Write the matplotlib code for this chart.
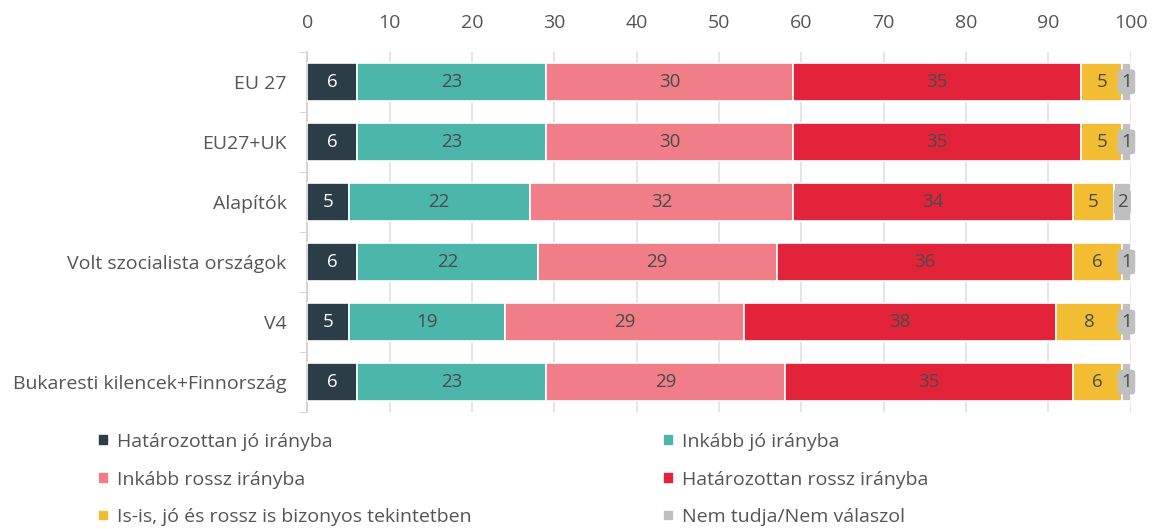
import matplotlib.pyplot as plt
import numpy as np

plt.rcParams['font.family'] = ['Open Sans', 'DejaVu Sans']

groups = ['EU 27', 'EU27+UK', 'Alapítók', 'Volt szocialista országok', 'V4',
          'Bukaresti kilencek+Finnország']
series = ['Határozottan jó irányba', 'Inkább jó irányba', 'Inkább rossz irányba',
          'Határozottan rossz irányba', 'Is-is, jó és rossz is bizonyos tekintetben',
          'Nem tudja/Nem válaszol']
values = [
    [6, 6, 5, 6, 5, 6],
    [23, 23, 22, 22, 19, 23],
    [30, 30, 32, 29, 29, 29],
    [35, 35, 34, 36, 38, 35],
    [5, 5, 5, 6, 8, 6],
    [1, 1, 2, 1, 1, 1],
]
colors = ['#2b3d46', '#4db6ab', '#f07d87', '#e3233a', '#f2bd33', '#bfbfbf']
text_colors = ['white', '#4a4a4a', '#4a4a4a', '#4a4a4a', '#4a4a4a', '#4a4a4a']

fig = plt.figure(figsize=(11.56, 5.29), dpi=100)
ax = fig.add_axes([0.266, 0.221, 0.712, 0.681])

y = np.arange(len(groups))
left = np.zeros(len(groups))
for i, s in enumerate(series):
    v = np.array(values[i], dtype=float)
    bars = ax.barh(y, v, left=left, height=0.64, color=colors[i], edgecolor='white',
                   linewidth=1.2, label=s, zorder=3)
    for j, b in enumerate(bars):
        kw = {}
        if i == len(series) - 1:
            # tiny segment: label sits on a grey box like the original
            kw['bbox'] = dict(boxstyle='round,pad=0.18', fc=colors[i], ec='none')
        ax.text(left[j] + v[j] / 2, y[j], str(values[i][j]), ha='center', va='center',
                color=text_colors[i], fontsize=13.5, zorder=4, **kw)
    left += v

ax.set_xlim(0, 100)
ax.set_ylim(len(groups) - 0.5, -0.5)
ax.set_yticks(y)
ax.set_yticklabels(groups, fontsize=14, color='#555555')
ax.set_yticks(np.arange(-0.5, len(groups), 1), minor=True)
ax.tick_params(axis='y', which='major', length=0, pad=15)
ax.tick_params(axis='y', which='minor', length=6, color='#d0d0d0', direction='out')
ax.xaxis.tick_top()
ax.set_xticks(np.arange(0, 101, 10))
ax.tick_params(axis='x', length=0, labelsize=14, labelcolor='#555555', pad=14)
ax.grid(axis='x', color='#e0e0e0', linewidth=1.2, zorder=0)
for sp in ['top', 'right', 'bottom']:
    ax.spines[sp].set_visible(False)
ax.spines['left'].set_color('#d0d0d0')
ax.spines['left'].set_linewidth(1.2)

handles, labels = ax.get_legend_handles_labels()
order = [0, 2, 4, 1, 3, 5]
leg = fig.legend([handles[k] for k in order], [labels[k] for k in order],
                 loc='upper left', bbox_to_anchor=(0.070, 0.215),
                 ncol=2, frameon=False, fontsize=14, handlelength=0.55, handleheight=0.55,
                 handletextpad=0.4, columnspacing=9.85, labelspacing=1.02)
for t in leg.get_texts():
    t.set_color('#555555')

fig.savefig('out.png', dpi=100)
